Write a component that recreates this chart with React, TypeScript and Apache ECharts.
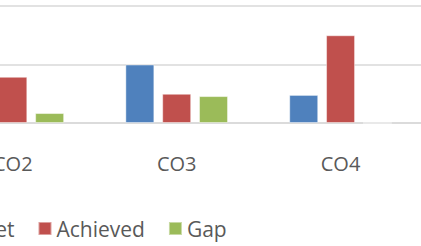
import React, { useEffect, useRef } from "react";
import * as echarts from "echarts";

const categories = ["CO1", "CO2", "CO3", "CO4"];
const targetValues = [1.0, 0.96, 1.0, 0.48];
const achievedValues = [0.8, 0.79, 0.5, 1.5];
const gapValues = [0.2, 0.17, 0.46, 0];
const seriesNames = ["Target", "Achieved", "Gap"];
const colors = ["#4F81BD", "#C0504D", "#9BBB59"];

const SHIFT = 240;

export default function App() {
  const ref = useRef<HTMLDivElement>(null);
  useEffect(() => {
    document.body.style.margin = "0";
    const chart = echarts.init(ref.current!, null, { renderer: "svg" });
    const font = "'Open Sans', sans-serif";
    const mk = (name: string, data: number[], color: string) => ({
      name,
      type: "bar",
      data,
      barWidth: 29,
      barGap: "27%",
      itemStyle: { color, borderColor: "rgba(255,255,255,0.45)", borderWidth: 1 },
    });
    chart.setOption({
      animation: false,
      backgroundColor: "#ffffff",
      color: colors,
      grid: { left: SHIFT - 233, right: 7.5, top: 6, bottom: 123, containLabel: false },
      legend: {
        data: seriesNames,
        left: SHIFT - 67,
        top: 218,
        padding: 0,
        itemWidth: 13,
        itemHeight: 13,
        itemGap: 23,
        icon: "rect",
        textStyle: { fontFamily: font, fontSize: 21, color: "#595959" },
      },
      xAxis: {
        type: "category",
        data: categories,
        axisTick: { show: false },
        axisLine: { lineStyle: { color: "#d9d9d9", width: 1.5 } },
        axisLabel: { fontFamily: font, fontSize: 20, color: "#595959", margin: 30 },
      },
      yAxis: {
        type: "value",
        min: 0,
        max: 2,
        interval: 1,
        axisLabel: { show: false },
        axisLine: { show: false },
        splitLine: { lineStyle: { color: "#d9d9d9", width: 1.5 } },
      },
      series: [
        mk(seriesNames[0], targetValues, colors[0]),
        mk(seriesNames[1], achievedValues, colors[1]),
        mk(seriesNames[2], gapValues, colors[2]),
      ],
    });
    return () => chart.dispose();
  }, []);
  return (
    <div style={{ position: "fixed", left: 0, top: 0, width: 421, height: 246, overflow: "hidden", background: "#fff" }}>
      <div
        ref={ref}
        style={{ position: "absolute", left: -SHIFT, top: 0, width: 670, height: 246 }}
      />
    </div>
  );
}
